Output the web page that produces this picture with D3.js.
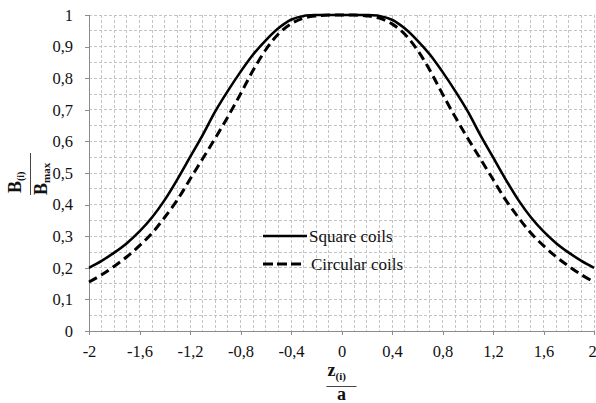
<!DOCTYPE html>
<html>
<head>
<meta charset="utf-8">
<script src="https://cdn.jsdelivr.net/npm/d3@7"></script>
<style>
  html, body { margin: 0; padding: 0; background: #fff; }
  svg { display: block; }
</style>
</head>
<body>
<svg id="chart" width="596" height="403"></svg>
<script>
// ---- data ----
const zValues = [-2,-1.9,-1.8,-1.7,-1.6,-1.5,-1.4,-1.3,-1.2,-1.1,-1,-0.9,-0.8,-0.7,-0.6,-0.5,-0.4,-0.3,-0.2,-0.1,0,
                 0.1,0.2,0.3,0.4,0.5,0.6,0.7,0.8,0.9,1,1.1,1.2,1.3,1.4,1.5,1.6,1.7,1.8,1.9,2];
const squareCoils = [0.200,0.222,0.248,0.278,0.315,0.360,0.415,0.480,0.550,0.620,0.695,0.760,0.820,0.875,0.920,0.958,0.985,0.997,1.000,1.000,1.000,
                     1.000,1.000,0.997,0.985,0.958,0.920,0.875,0.820,0.760,0.695,0.620,0.550,0.480,0.415,0.360,0.315,0.278,0.248,0.222,0.200];
const circularCoils = [0.155,0.178,0.205,0.235,0.270,0.310,0.360,0.415,0.480,0.545,0.610,0.678,0.750,0.825,0.890,0.940,0.972,0.990,0.997,1.000,1.000,
                       1.000,0.997,0.990,0.972,0.940,0.890,0.825,0.750,0.678,0.610,0.545,0.480,0.415,0.360,0.310,0.270,0.235,0.205,0.178,0.155];
const xTicks = [-2,-1.6,-1.2,-0.8,-0.4,0,0.4,0.8,1.2,1.6,2];
const yTicks = [0,0.1,0.2,0.3,0.4,0.5,0.6,0.7,0.8,0.9,1];
const seriesNames = ["Square coils", "Circular coils"];

// ---- layout ----
const SERIF = "'Liberation Serif', 'Times New Roman', 'DejaVu Serif', serif";
const svg = d3.select("#chart");
const mLeft = 89, mRight = 594, mTop = 15, mBottom = 331;
const x = d3.scaleLinear().domain([-2, 2]).range([mLeft, mRight]);
const y = d3.scaleLinear().domain([0, 1]).range([mBottom, mTop]);
const fmt = v => String(+v.toFixed(1)).replace(".", ",");

// grid
const gridColor = "#c4c4c4";
const gx = d3.range(-19, 21).map(i => i / 10);
const gy = d3.range(1, 21).map(i => i / 20);
svg.append("g").selectAll("line").data(gx).join("line")
  .attr("x1", d => x(d)).attr("x2", d => x(d))
  .attr("y1", y(1)).attr("y2", y(0))
  .attr("stroke", gridColor).attr("stroke-width", 1).attr("stroke-dasharray", "3,2")
  .attr("shape-rendering", "crispEdges");
svg.append("g").selectAll("line").data(gy).join("line")
  .attr("x1", x(-2)).attr("x2", x(2))
  .attr("y1", d => y(d)).attr("y2", d => y(d))
  .attr("stroke", gridColor).attr("stroke-width", 1).attr("stroke-dasharray", "3,2")
  .attr("shape-rendering", "crispEdges");

// axes
const axisColor = "#8c8c8c";
const yAxis = svg.append("g").attr("transform", `translate(${mLeft},0)`)
  .call(d3.axisLeft(y).tickValues(yTicks).tickFormat(fmt).tickSize(4).tickPadding(12));
const xAxis = svg.append("g").attr("transform", `translate(0,${mBottom})`)
  .call(d3.axisBottom(x).tickValues(xTicks).tickFormat(fmt).tickSize(4).tickPadding(10));
[yAxis, xAxis].forEach(a => {
  a.attr("font-family", null).attr("font-size", null);
  a.select(".domain").attr("stroke", axisColor).attr("shape-rendering", "crispEdges");
  a.selectAll(".tick line").attr("stroke", axisColor).attr("shape-rendering", "crispEdges");
  a.selectAll(".tick text").style("font-family", SERIF).style("font-size", "16.5px").attr("fill", "#111");
});
// keep the last x label inside the picture
xAxis.selectAll(".tick text").filter(d => d === 2).attr("dx", -2);

// curves
const line = d3.line().x((d, i) => x(zValues[i])).y(d => y(d)).curve(d3.curveCatmullRom.alpha(0.5));
svg.append("path").datum(circularCoils).attr("d", line)
  .attr("fill", "none").attr("stroke", "#000").attr("stroke-width", 3).attr("stroke-dasharray", "9,5");
svg.append("path").datum(squareCoils).attr("d", line)
  .attr("fill", "none").attr("stroke", "#000").attr("stroke-width", 2.6);

// legend
const legend = svg.append("g");
const legItems = [
  {name: seriesNames[0], dash: null, w: 2.6, x1: 263, x2: 307, tx: 309, y: 236},
  {name: seriesNames[1], dash: "10,4", w: 3, x1: 263, x2: 301, tx: 311, y: 264}
];
legItems.forEach(it => {
  legend.append("line").attr("x1", it.x1).attr("x2", it.x2).attr("y1", it.y).attr("y2", it.y)
    .attr("stroke", "#000").attr("stroke-width", it.w).attr("stroke-dasharray", it.dash);
  legend.append("text").attr("x", it.tx).attr("y", it.y).attr("dy", "0.33em")
    .style("font-family", SERIF).style("font-size", "17px").attr("fill", "#111").text(it.name);
});

// x axis title: z(i) / a
const xt = svg.append("g").attr("transform", `translate(${x(0)},0)`).style("font-family", SERIF).attr("fill", "#111");
xt.append("text").attr("x", -14).attr("y", 376).style("font-size", "18px").style("font-weight", "bold")
  .text("z").append("tspan").style("font-size", "11px").attr("dy", 4).text("(i)");
xt.append("line").attr("x1", -15).attr("x2", 15).attr("y1", 386.5).attr("y2", 386.5)
  .attr("stroke", "#444").attr("stroke-width", 1);
xt.append("text").attr("x", 0).attr("y", 400).attr("text-anchor", "middle")
  .style("font-size", "18px").style("font-weight", "bold").text("a");

// y axis title: B(i) / Bmax (rotated)
const yt = svg.append("g").attr("transform", `translate(30.5,174) rotate(-90)`).style("font-family", SERIF).attr("fill", "#111");
yt.append("text").attr("x", -19).attr("y", -10).style("font-size", "18px").style("font-weight", "bold")
  .text("B").append("tspan").style("font-size", "10px").attr("dy", 3).text("(i)");
yt.append("line").attr("x1", -21).attr("x2", 21).attr("y1", 0).attr("y2", 0)
  .attr("stroke", "#444").attr("stroke-width", 1);
yt.append("text").attr("x", -21).attr("y", 16.5).style("font-size", "18px").style("font-weight", "bold")
  .text("B").append("tspan").style("font-size", "11px").attr("dy", 3).text("max");
</script>
</body>
</html>
